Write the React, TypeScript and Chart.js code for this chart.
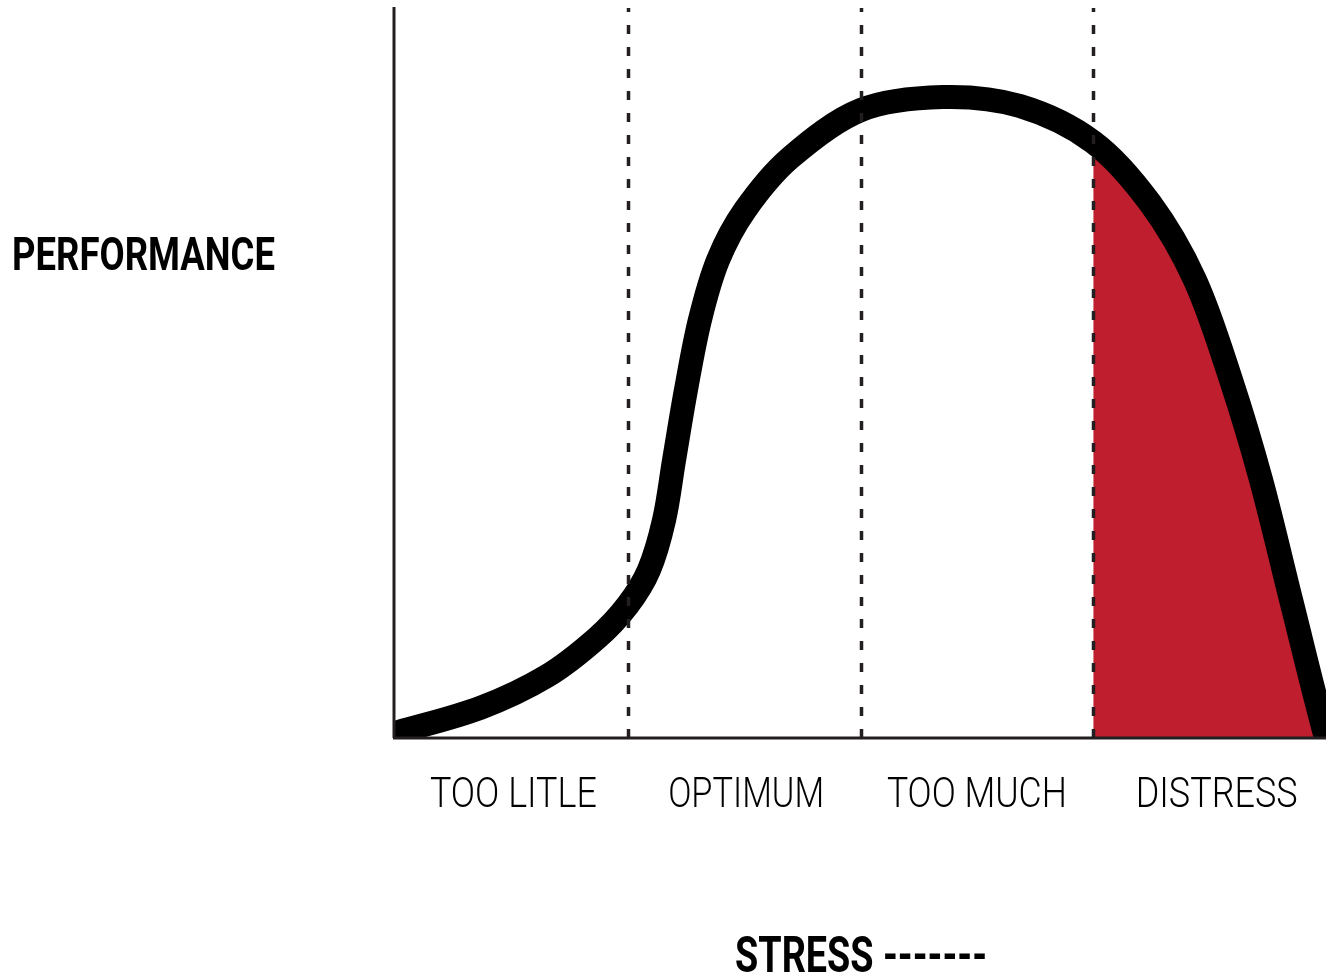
import React, { useEffect, useRef } from "react";
import { Chart, registerables } from "chart.js";

Chart.register(...registerables);

// Stress level (x, zones 0-1, 1-2, 2-3, 3-4) and performance (y, 0-100)
const stressX = [-0.1, 0, 0.365, 0.653, 0.868, 1.0, 1.091, 1.156, 1.199, 1.25, 1.31, 1.388, 1.504, 1.697, 2.002, 2.354, 2.685, 3.0, 3.244, 3.437, 3.592, 3.721, 3.85, 4.0, 4.082];
const performance = [-0.23, 0.68, 4.11, 8.49, 13.7, 18.2, 23.01, 29.86, 38.08, 47.67, 57.26, 65.48, 72.33, 79.45, 86.03, 87.81, 86.58, 81.64, 73.29, 62.74, 49.04, 35.34, 18.9, 0, -8.49];

const zoneLabels = ["TOO LITLE", "OPTIMUM", "TOO MUCH", "DISTRESS"];
const zoneBounds = [1, 2, 3];
const distressStart = 3;
const yTitle = "PERFORMANCE";
const xTitle = "STRESS -------";

const curvePoints = stressX.map((x, i) => ({ x, y: performance[i] }));
const distressPoints = curvePoints.filter((p) => p.x >= distressStart);

const INK = "#231f20";

function drawSqueezed(ctx: CanvasRenderingContext2D, text: string, x: number, baseline: number, font: string, width: number, align: "left" | "center") {
  ctx.save();
  ctx.font = font;
  const w = ctx.measureText(text).width;
  const sx = width / w;
  ctx.translate(x, baseline);
  ctx.scale(sx, 1);
  ctx.textAlign = align;
  ctx.textBaseline = "alphabetic";
  ctx.fillStyle = "#000";
  ctx.fillText(text, 0, 0);
  ctx.restore();
}

const decorPlugin = {
  id: "decor",
  afterDatasetsDraw(chart: any) {
    const { ctx, chartArea, scales } = chart;
    const xs = scales.x;
    ctx.save();
    // dashed zone lines, drawn bottom-up
    ctx.strokeStyle = INK;
    ctx.lineWidth = 3.5;
    ctx.setLineDash([9, 13]);
    zoneBounds.forEach((b) => {
      const px = Math.round(xs.getPixelForValue(b)) + 0.5;
      ctx.beginPath();
      ctx.moveTo(px, chartArea.bottom);
      ctx.lineTo(px, chartArea.top);
      ctx.stroke();
    });
    ctx.setLineDash([]);
    // axes
    ctx.lineWidth = 3;
    ctx.beginPath();
    ctx.moveTo(chartArea.left - 1, chartArea.top - 1);
    ctx.lineTo(chartArea.left - 1, chartArea.bottom);
    ctx.stroke();
    ctx.beginPath();
    ctx.moveTo(chartArea.left - 2, chartArea.bottom);
    ctx.lineTo(chart.width, chartArea.bottom);
    ctx.stroke();
    ctx.restore();

    // zone labels
    const widths = [167, 156, 180, 162];
    const offsets = [2, 2, 0, 7];
    zoneLabels.forEach((t, i) => {
      const cx = xs.getPixelForValue(i + 0.5) + offsets[i];
      drawSqueezed(ctx, t, cx, chartArea.bottom + 69, "300 43px Roboto", widths[i], "center");
    });
    // axis titles
    drawSqueezed(ctx, yTitle, 12, 270, "700 47px Roboto", 263, "left");
    drawSqueezed(ctx, xTitle, 735, chartArea.bottom + 234, "700 50px Roboto", 252, "left");
  },
};

export default function App() {
  const ref = useRef<HTMLCanvasElement | null>(null);
  useEffect(() => {
    if (!ref.current) return;
    const chart = new Chart(ref.current, {
      type: "line",
      data: {
        datasets: [
          {
            data: curvePoints,
            borderColor: "#000",
            borderWidth: 24,
            borderJoinStyle: "round",
            pointRadius: 0,
            tension: 0.33,
            capBezierPoints: false,
            fill: false,
            clip: 0,
            order: 0,
          } as any,
          {
            data: distressPoints,
            borderWidth: 0,
            borderColor: "rgba(0,0,0,0)",
            backgroundColor: "#be1e2d",
            pointRadius: 0,
            tension: 0.33,
            capBezierPoints: false,
            fill: "origin",
            clip: 0,
            order: 1,
          } as any,
        ],
      },
      options: {
        animation: false,
        responsive: false,
        maintainAspectRatio: false,
        layout: { padding: { left: 395, top: 8, right: 0, bottom: 241 } },
        elements: { line: { capBezierPoints: false } },
        scales: {
          x: { type: "linear", min: 0, max: 4, display: false },
          y: { type: "linear", min: 0, max: 100, display: false },
        },
        plugins: { legend: { display: false }, tooltip: { enabled: false } },
      },
      plugins: [decorPlugin],
    });
    return () => chart.destroy();
  }, []);
  return (
    <div style={{ position: "fixed", left: 0, top: 0, width: 1326, height: 979, background: "#fff" }}>
      <canvas ref={ref} width={1326} height={979} style={{ display: "block" }} />
    </div>
  );
}
